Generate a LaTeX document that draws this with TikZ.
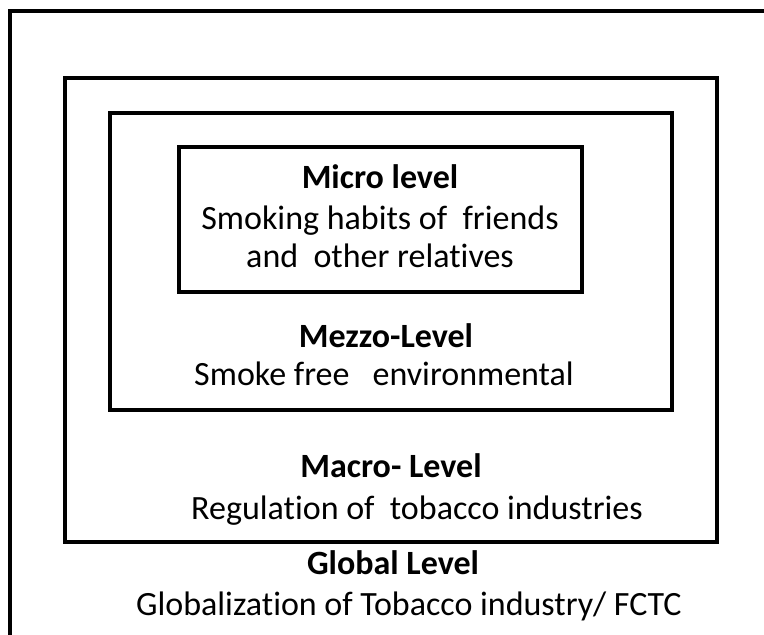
\documentclass[tikz,border=0pt]{standalone}
\usepackage{fontspec}
\setmainfont[Ligatures={NoCommon}]{Carlito}

\begin{document}
\begin{tikzpicture}[x=1pt,y=-1pt,
    levelbox/.style={draw=black,line width=4pt},
    title/.style={font=\fontsize{34}{40}\selectfont\bfseries,anchor=base,inner sep=0pt},
    desc/.style={font=\fontsize{34}{40}\selectfont,anchor=base,inner sep=0pt}]
  \useasboundingbox (0,0) rectangle (764,635);
  \clip (0,0) rectangle (764,635);
  % nested level boxes
  \draw[levelbox] (10,11) rectangle (790,660);
  \draw[levelbox] (65,78) rectangle (717,542);
  \draw[levelbox] (110,113) rectangle (672,410);
  \draw[levelbox] (179,147) rectangle (582,292);
  % micro
  \node[title] (micro) at (380,188) {Micro level};
  \node[desc] (microa) at (380,229) {Smoking habits of\ \ friends};
  \node[desc] (microb) at (380,267) {and\ \ other relatives};
  % mezzo
  \node[title] (mezzo) at (386,347) {Mezzo-Level};
  \node[desc] (mezzoa) at (384,385) {Smoke free\ \ \ environmental};
  % macro
  \node[title] (macro) at (391,477) {Macro- Level};
  \node[desc] (macroa) at (417,519) {Regulation of\ \ tobacco industries};
  % global
  \node[title] (global) at (393,574) {Global Level};
  \node[desc] (globala) at (409,615) {Globalization of Tobacco industry/ FCTC};
\end{tikzpicture}
\end{document}
